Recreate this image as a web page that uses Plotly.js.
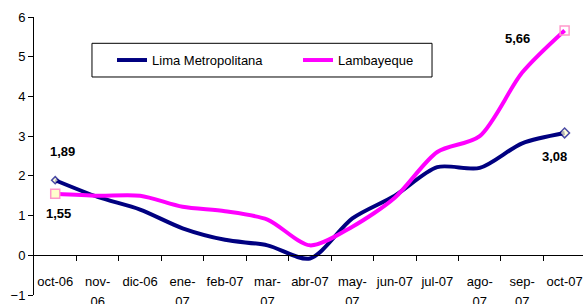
<!DOCTYPE html>
<html>
<head>
<meta charset="utf-8">
<script src="https://cdn.plot.ly/plotly-3.0.1.min.js"></script>
<style>html,body{margin:0;padding:0;background:#fff;}#chart{width:583px;height:304px;}</style>
</head>
<body>
<div id="chart"></div>
<script>
const categories = ["oct-06","nov-06","dic-06","ene-07","feb-07","mar-07","abr-07","may-07","jun-07","jul-07","ago-07","sep-07","oct-07"];
const tickLine1 = ["oct-06","nov-","dic-06","ene-","feb-07","mar-","abr-07","may-","jun-07","jul-07","ago-","sep-","oct-07"];
const tickLine2 = ["","06","","07","","07","","07","","","07","07",""];
const limaName = "Lima Metropolitana";
const limaValues = [1.89, 1.47, 1.15, 0.68, 0.39, 0.25, -0.08, 0.93, 1.50, 2.22, 2.20, 2.82, 3.08];
const lambName = "Lambayeque";
const lambValues = [1.55, 1.50, 1.50, 1.22, 1.11, 0.90, 0.25, 0.72, 1.45, 2.60, 3.00, 4.60, 5.66];

const xIdx = categories.map((c, i) => i);
const ends = [0, categories.length - 1];
const boundaries = categories.slice(1).map((c, i) => i + 0.5);
const fmt = v => v.toFixed(2).replace(".", ",");
const FONT = "Liberation Sans, Arial, sans-serif";
const xr = [-0.5, 12.433];

const traces = [
  {x: xIdx, y: limaValues, name: limaName, mode: "lines", type: "scatter",
   line: {color: "#000080", width: 4, shape: "spline", smoothing: 0.8}},
  {x: xIdx, y: lambValues, name: lambName, mode: "lines", type: "scatter",
   line: {color: "#FF00FF", width: 4, shape: "spline", smoothing: 0.8}},
  {x: ends, y: ends.map(i => limaValues[i]), xaxis: "x2", mode: "markers", type: "scatter", showlegend: false,
   marker: {symbol: "diamond", size: [5.5, 7.5], color: "#FFFFCC", line: {color: "#000080", width: 1.5}}},
  {x: ends, y: ends.map(i => lambValues[i]), xaxis: "x2", mode: "markers", type: "scatter", showlegend: false,
   marker: {symbol: "square", size: 9, color: ["#FFFFCC", "rgba(255,255,255,0)"], line: {color: "#FF99CC", width: 1.5}}}
];

const labelFont = {family: FONT, size: 13, color: "#000", weight: "bold"};
const annotations = [
  {x: 0, y: limaValues[0], xshift: 7, yshift: 29},
  {x: 0, y: lambValues[0], xshift: 3, yshift: -20},
  {x: 12, y: lambValues[12], xshift: -47, yshift: -8},
  {x: 12, y: limaValues[12], xshift: -10, yshift: -24}
].map(a => Object.assign({
  xref: "x", yref: "y", showarrow: false, font: labelFont,
  text: fmt(a.y), xanchor: "center", yanchor: "middle"
}, a));

const layout = {
  width: 583, height: 304,
  margin: {l: 34, r: 0, t: 17, b: 9},
  paper_bgcolor: "#fff", plot_bgcolor: "#fff",
  font: {family: FONT, size: 13, color: "#000"},
  showlegend: true,
  legend: {orientation: "h", x: 0.1421, y: 0.899, xanchor: "left", yanchor: "top",
           bgcolor: "rgba(0,0,0,0)", borderwidth: 0, font: {family: FONT, size: 13, color: "#000"},
           entrywidth: 141},
  shapes: [
    {type: "rect", xref: "paper", yref: "paper", x0: 0.1056, x1: 0.7250, y0: 0.7842, y1: 0.9054,
     line: {color: "#000", width: 1}, fillcolor: "#fff", layer: "above"}
  ],
  xaxis: {range: xr, tickmode: "array", tickvals: xIdx, ticktext: tickLine1, ticks: "",
          showline: true, linecolor: "#000", linewidth: 1, showgrid: false, zeroline: false,
          anchor: "free", position: 1/7, ticklabelstandoff: 14,
          minor: {tickmode: "array", tickvals: boundaries, ticks: "outside", ticklen: 5, tickcolor: "#000", tickwidth: 1, showgrid: false},
          tickfont: {family: FONT, size: 13, color: "#000"}},
  xaxis2: {range: xr, overlaying: "x", tickmode: "array", tickvals: xIdx, ticktext: tickLine2, ticks: "",
           showline: false, showgrid: false, zeroline: false, anchor: "free", position: 1/7, side: "bottom",
           ticklabelstandoff: 37, tickfont: {family: FONT, size: 13, color: "#000"}},
  yaxis: {range: [-1, 6], dtick: 1, tick0: 0, ticks: "outside", ticklen: 5, tickcolor: "#000",
          showline: true, linecolor: "#000", linewidth: 1, showgrid: false, zeroline: false,
          tickfont: {family: FONT, size: 13, color: "#000"}},
  annotations: annotations
};

Plotly.newPlot("chart", traces, layout, {staticPlot: true, displayModeBar: false});
</script>
</body>
</html>
